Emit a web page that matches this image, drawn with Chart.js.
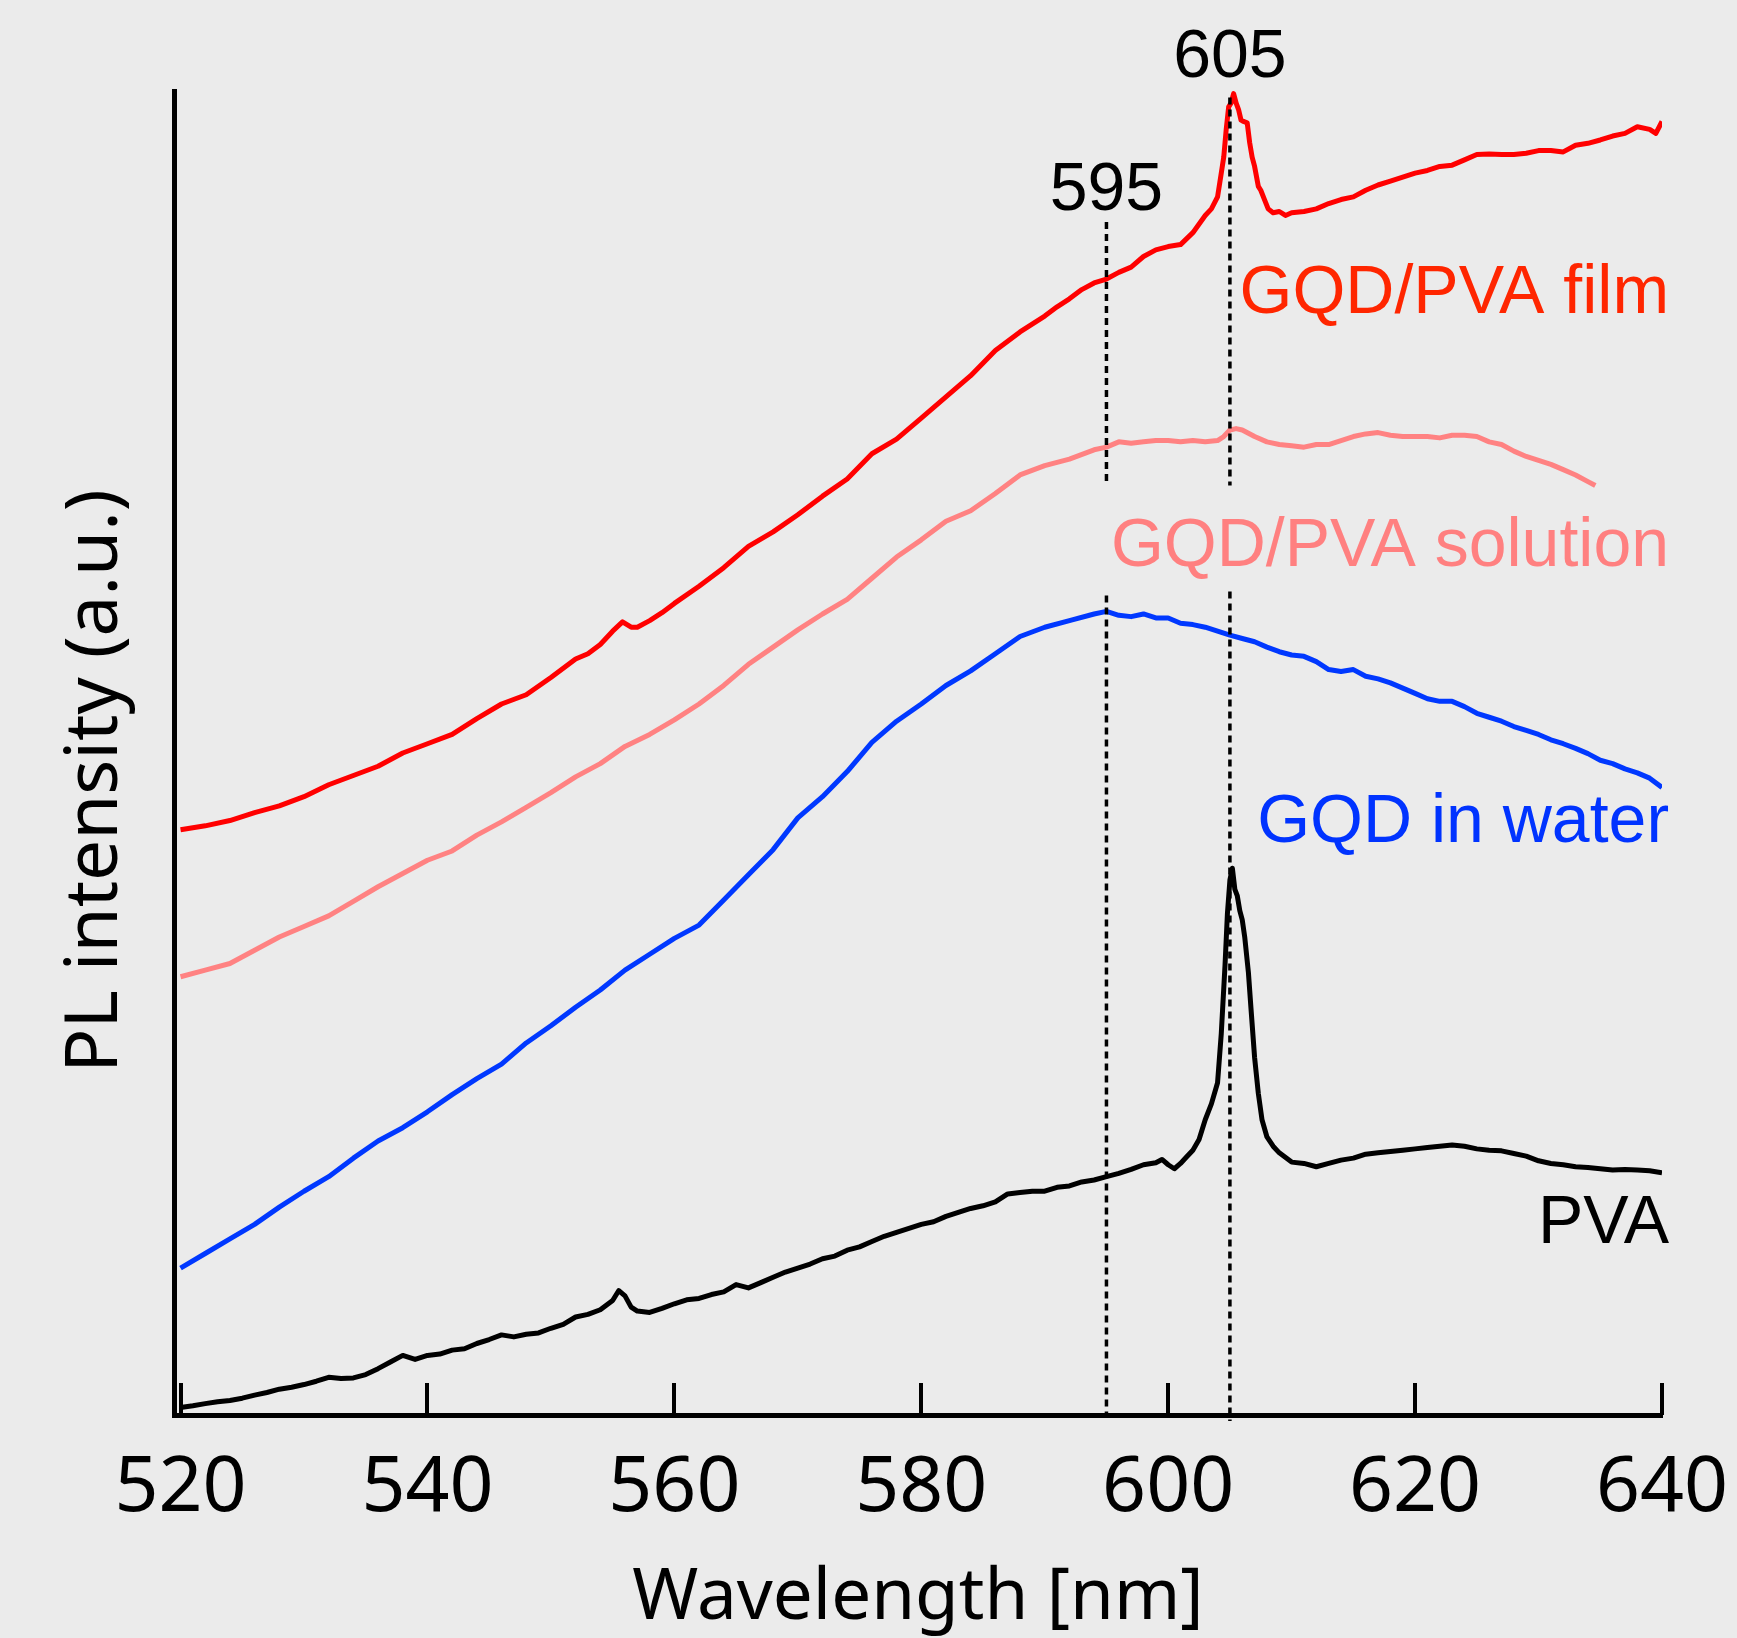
<!DOCTYPE html>
<html>
<head>
<meta charset="utf-8">
<title>PL spectra</title>
<script src="https://cdn.jsdelivr.net/npm/chart.js@4.4.1/dist/chart.umd.min.js"></script>
<style>
  html, body { margin: 0; padding: 0; background: #ebebeb; }
  canvas { display: block; }
</style>
</head>
<body>
<canvas id="myChart" width="1737" height="1638"></canvas>
<script>
// wavelength ticks (nm)
const tickValues = [520, 540, 560, 580, 600, 620, 640];

// GQD/PVA film
const filmX = [520,522,524,526,528,530,532,534,536,538,540,542,544,546,548,550,552,553,554,555,555.8,556.5,557,558,559,560,562,564,566,568,570,572,574,576,578,580,582,584,586,588,590,591,592,593,594,595,596,597,598,599,600,601,602,603,603.5,604,604.3,604.5,604.7,604.9,605.1,605.3,605.5,605.7,605.9,606.1,606.4,606.6,606.8,607,607.3,607.5,607.8,608.1,608.5,609,609.5,610,611,612,613,614,615,616,617,618,619,620,621,622,623,624,625,626,627,628,629,630,631,632,633,634,635,636,637,638,639,639.5,640];
const filmY = [44.2,44.5,44.9,45.5,46.0,46.7,47.6,48.3,49.0,50.0,50.7,51.4,52.6,53.7,54.4,55.7,57.1,57.5,58.2,59.2,59.9,59.5,59.5,60.0,60.6,61.3,62.6,64.0,65.6,66.7,68.0,69.4,70.7,72.6,73.7,75.3,76.9,78.5,80.4,81.8,83.0,83.7,84.3,85.0,85.5,85.8,86.3,86.7,87.5,88.0,88.25,88.4,89.3,90.6,91.1,92.0,93.8,95.0,97.1,98.8,99.1,99.8,99.1,98.6,97.8,97.7,97.6,96.1,95.0,94.3,92.8,92.5,91.8,91.1,90.8,90.9,90.6,90.8,90.9,91.1,91.5,91.8,92.0,92.5,92.9,93.2,93.5,93.8,94.0,94.3,94.4,94.8,95.2,95.25,95.2,95.2,95.3,95.5,95.5,95.4,95.9,96.05,96.3,96.6,96.8,97.3,97.1,96.8,97.7];

// GQD/PVA solution
const solX = [520,522,524,526,528,530,532,534,536,538,540,542,544,546,548,550,552,554,556,558,560,562,564,566,568,570,572,574,576,578,580,582,584,586,588,590,592,594,595,596,597,598,599,600,601,602,603,604,604.5,605,605.5,606,607,608,609,610,611,612,613,614,615,616,617,618,619,620,621,622,623,624,625,626,627,628,629,630,631,632,633,634,634.6];
const solY = [33.1,33.6,34.1,35.1,36.1,36.9,37.7,38.8,39.9,40.9,41.9,42.6,43.8,44.8,45.9,47.0,48.2,49.2,50.5,51.4,52.5,53.7,55.1,56.7,58.0,59.3,60.5,61.6,63.2,64.8,66.1,67.5,68.3,69.6,71.0,71.7,72.2,72.9,73.1,73.5,73.4,73.5,73.6,73.6,73.5,73.6,73.5,73.6,73.9,74.4,74.5,74.4,73.9,73.5,73.3,73.2,73.1,73.3,73.3,73.6,73.9,74.1,74.2,74.0,73.9,73.9,73.9,73.8,74.0,74.0,73.9,73.5,73.3,72.8,72.4,72.1,71.8,71.4,71.0,70.5,70.2];

// GQD in water
const waterX = [520,522,524,526,528,530,532,534,536,538,540,542,544,546,548,550,552,554,556,558,560,562,564,566,568,570,572,574,576,578,580,582,584,586,588,590,592,594,595,596,597,598,599,600,601,602,603,604,605,606,607,608,609,610,611,612,613,614,615,616,617,618,619,620,621,622,623,624,625,626,627,628,629,630,631,632,633,634,635,636,637,638,639,640];
const waterY = [11.1,12.2,13.3,14.4,15.7,16.9,18.0,19.4,20.7,21.7,22.9,24.2,25.4,26.5,28.1,29.4,30.8,32.1,33.6,34.8,36.0,37.0,38.9,40.8,42.7,45.1,46.7,48.6,50.8,52.4,53.7,55.1,56.2,57.5,58.8,59.5,60.0,60.5,60.7,60.4,60.3,60.5,60.2,60.2,59.8,59.7,59.5,59.2,58.9,58.65,58.4,58.0,57.65,57.4,57.3,56.9,56.3,56.15,56.3,55.8,55.6,55.3,54.9,54.5,54.1,53.9,53.9,53.5,53.0,52.7,52.4,52.0,51.7,51.4,51.0,50.7,50.35,49.95,49.45,49.2,48.8,48.5,48.1,47.4];

// PVA
const pvaX = [520,521,522,523,524,525,526,527,528,529,530,531,532,533,534,535,536,537,538,539,540,541,542,543,544,545,546,547,548,549,550,551,552,553,554,555,555.5,556,556.5,557,558,559,560,561,562,563,564,565,566,567,568,569,570,571,572,573,574,575,576,577,578,579,580,581,582,583,584,585,586,587,588,589,590,591,592,593,594,595,596,597,598,599,599.5,600,600.5,601,601.5,602,602.5,603,603.5,604,604.3,604.6,604.8,605,605.2,605.4,605.6,605.8,606,606.2,606.5,606.7,607,607.3,607.6,608,608.5,609,610,611,612,613,614,615,616,617,618,619,620,621,622,623,624,625,626,627,628,629,630,631,632,633,634,635,636,637,638,639,640];
const pvaY = [0.57,0.7,0.86,1.0,1.1,1.27,1.5,1.7,1.95,2.1,2.3,2.55,2.85,2.75,2.8,3.05,3.5,4.0,4.5,4.2,4.5,4.6,4.9,5.0,5.4,5.7,6.05,5.9,6.1,6.2,6.55,6.85,7.4,7.6,7.95,8.65,9.4,9.0,8.15,7.85,7.75,8.05,8.4,8.7,8.8,9.1,9.3,9.85,9.6,10.0,10.4,10.8,11.1,11.4,11.8,12.0,12.45,12.7,13.1,13.5,13.8,14.1,14.4,14.6,15.0,15.3,15.6,15.8,16.1,16.7,16.8,16.9,16.9,17.2,17.3,17.6,17.75,18.0,18.25,18.55,18.9,19.05,19.3,18.9,18.6,19.0,19.5,20.0,20.8,22.3,23.5,25.1,28.8,33.9,37.9,40.4,41.3,39.7,39.2,38.1,37.4,36.1,33.4,30.8,27.0,24.3,22.3,21.0,20.3,19.8,19.1,19.0,18.75,19.0,19.25,19.4,19.7,19.8,19.9,20.0,20.1,20.2,20.3,20.4,20.3,20.1,20.0,19.95,19.75,19.55,19.2,19.0,18.9,18.75,18.7,18.6,18.5,18.55,18.5,18.45,18.3];

// dashed guide lines: wavelength, and [top, gap start, gap end, bottom] in intensity
const guideX = [595, 605];
const guideY = [[90.1, 70.2, 61.9, 0], [99.5, 70.2, 62.2, -0.45]];

// curve labels
const seriesNames = ['GQD/PVA film', 'GQD/PVA solution', 'GQD in water', 'PVA'];
const seriesColors = ['#ff0000', '#ff8282', '#0038ff', '#000000'];
const labelColors = ['#ff2600', '#ff8080', '#0033ff', '#000000'];
const labelBaseY = [83.2, 64.1, 43.3, 13.0];
const labelRightX = 640.57;

// peak labels above the guide lines
const peakText = ['595', '605'];
const peakBaseY = [91.0, 101.06];

function toPoints(xs, ys) {
  return xs.map((x, i) => ({x: x, y: ys[i]}));
}

function guidePoints(x, ys) {
  return [
    {x: x, y: ys[0]}, {x: x, y: ys[1]},
    {x: x, y: null},
    {x: x, y: ys[2]}, {x: x, y: ys[3]}
  ];
}

const curves = [
  toPoints(filmX, filmY),
  toPoints(solX, solY),
  toPoints(waterX, waterY),
  toPoints(pvaX, pvaY)
];

const datasets = [];
guideX.forEach((gx, i) => {
  datasets.push({
    label: 'guide ' + gx,
    data: guidePoints(gx, guideY[i]),
    borderColor: '#000',
    borderWidth: 3.5,
    borderDash: [7, 5],
    pointRadius: 0,
    spanGaps: false,
    clip: false,
    order: 0
  });
});
curves.forEach((pts, i) => {
  datasets.push({
    label: seriesNames[i],
    data: pts,
    borderColor: seriesColors[i],
    borderWidth: 5,
    borderJoinStyle: 'round',
    pointRadius: 0,
    tension: 0,
    order: 1 + i
  });
});

// short tick marks pointing up into the plot
const insideTicks = {
  id: 'insideTicks',
  beforeDatasetsDraw(chart) {
    const {ctx, chartArea} = chart;
    const xs = chart.scales.x;
    ctx.save();
    ctx.strokeStyle = '#000';
    ctx.lineWidth = 4;
    tickValues.forEach(v => {
      const px = Math.round(xs.getPixelForValue(v));
      ctx.beginPath();
      ctx.moveTo(px, chartArea.bottom);
      ctx.lineTo(px, chartArea.bottom - 32);
      ctx.stroke();
    });
    ctx.restore();
  }
};

// curve names, peak wavelengths and the rotated y title
const textLabels = {
  id: 'textLabels',
  afterDatasetsDraw(chart) {
    const {ctx} = chart;
    const xs = chart.scales.x;
    const ys = chart.scales.y;
    ctx.save();
    ctx.font = '68px "Liberation Sans", Arial, sans-serif';
    ctx.textBaseline = 'alphabetic';
    ctx.textAlign = 'right';
    seriesNames.forEach((name, i) => {
      ctx.fillStyle = labelColors[i];
      ctx.fillText(name, xs.getPixelForValue(labelRightX), ys.getPixelForValue(labelBaseY[i]));
    });
    ctx.textAlign = 'center';
    ctx.fillStyle = '#000';
    peakText.forEach((t, i) => {
      ctx.fillText(t, xs.getPixelForValue(guideX[i]), ys.getPixelForValue(peakBaseY[i]));
    });

    ctx.font = '73px "Noto Sans", sans-serif';
    ctx.translate(96, 781);
    ctx.rotate(-Math.PI / 2);
    ctx.textBaseline = 'middle';
    ctx.fillText('PL intensity (a.u.)', 0, 0);
    ctx.restore();
  }
};

Chart.defaults.font.family = '"Noto Sans", sans-serif';
Chart.defaults.color = '#000';

const ctx = document.getElementById('myChart');

new Chart(ctx, {
  type: 'line',
  data: { datasets: datasets },
  options: {
    responsive: false,
    devicePixelRatio: 1,
    animation: false,
    layout: { padding: { top: 91, right: 75, left: 0, bottom: 0 } },
    plugins: {
      legend: { display: false },
      tooltip: { enabled: false }
    },
    scales: {
      x: {
        type: 'linear',
        min: 519.47,
        max: 640,
        grid: { display: false, drawTicks: false },
        border: { display: true, color: '#000', width: 5 },
        afterBuildTicks: scale => {
          scale.ticks = tickValues.map(v => ({value: v}));
        },
        afterFit: scale => {
          scale.height = 223;
          scale.paddingLeft = 0;
          scale.paddingRight = 0;
        },
        ticks: {
          autoSkip: false,
          maxRotation: 0,
          padding: 28,
          color: '#000',
          font: { size: 77, family: '"Noto Sans", sans-serif' }
        },
        title: {
          display: true,
          text: 'Wavelength [nm]',
          color: '#000',
          font: { size: 71, family: '"Noto Sans", sans-serif' },
          padding: { top: 0, bottom: -3 }
        }
      },
      y: {
        min: 0,
        max: 100,
        grid: { display: false, drawTicks: false },
        border: { display: true, color: '#000', width: 5 },
        ticks: { display: false },
        afterFit: scale => { scale.width = 174; }
      }
    }
  },
  plugins: [insideTicks, textLabels]
});
</script>
</body>
</html>
